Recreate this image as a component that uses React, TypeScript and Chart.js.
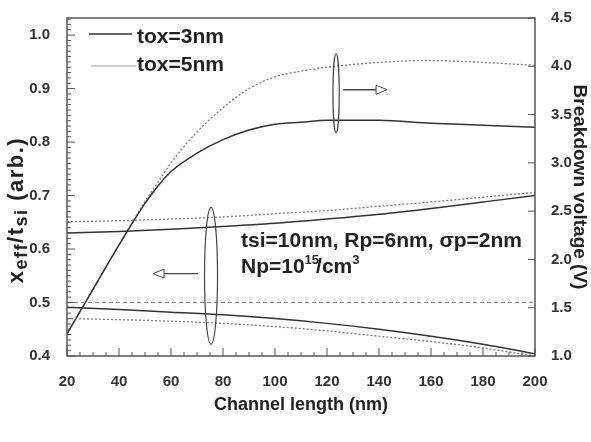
import React, { useEffect, useRef } from "react";
import { Chart, registerables } from "chart.js";

Chart.register(...registerables);

// ---- data ----
const lengthNm = [20, 40, 60, 80, 100, 120, 140, 160, 180, 200];
const xeffUpperTox3 = [0.630, 0.633, 0.637, 0.642, 0.648, 0.656, 0.665, 0.676, 0.688, 0.700];
const xeffUpperTox5 = [0.651, 0.653, 0.656, 0.660, 0.666, 0.672, 0.680, 0.688, 0.697, 0.706];
const xeffLowerTox3 = [0.491, 0.487, 0.482, 0.477, 0.470, 0.461, 0.450, 0.437, 0.422, 0.404];
const xeffLowerTox5 = [0.470, 0.468, 0.465, 0.461, 0.455, 0.447, 0.437, 0.427, 0.415, 0.400];
const refLength = [20, 200];
const refLevel = [0.5, 0.5];
const bdLength = [20, 30, 40, 50, 55, 60, 70, 80, 90, 100, 110, 120, 140, 160, 180, 200];
const bdTox3 = [1.23, 1.69, 2.15, 2.58, 2.76, 2.91, 3.10, 3.24, 3.34, 3.40, 3.42, 3.44, 3.44, 3.41, 3.39, 3.37];
const bdTox5 = [1.23, 1.69, 2.15, 2.60, 2.80, 3.00, 3.32, 3.57, 3.77, 3.89, 3.95, 3.99, 4.04, 4.06, 4.04, 4.01];

const xTickStep = 20;
const leftTickStep = 0.1;
const rightTickStep = 0.5;
const legendLabels = ["tox=3nm", "tox=5nm"];
const noteLine1 = "tsi=10nm, Rp=6nm, \u03C3p=2nm";

// annotation anchors in data units
const rightEllipse = { cx: 123.5, cy: 3.72, rx: 1.2, ry: 0.41 };
const leftEllipse = { cx: 75.4, cy: 0.55, rx: 2.5, ry: 0.128 };
const rightArrow = { from: 126.2, to: 143.1, at: 3.757 };
const leftArrow = { from: 70.4, to: 53.1, at: 0.554 };

const FONT = 'Arial, "Liberation Sans", sans-serif';
const DARK = "#333333";
const LIGHT = "#7a7a7a";

const pts = (xs: number[], ys: number[]) => xs.map((x, i) => ({ x, y: ys[i] }));

const decor = {
  id: "decor",
  afterDraw(chart: any) {
    const { ctx, chartArea: a, scales } = chart;
    const sx = scales.x, yl = scales.y, yr = scales.y1;
    ctx.save();

    // frame
    ctx.strokeStyle = "#555";
    ctx.lineWidth = 1.5;
    ctx.strokeRect(a.left, a.top, a.right - a.left, a.bottom - a.top);

    // inward ticks
    ctx.lineWidth = 1;
    ctx.strokeStyle = "#555";
    ctx.beginPath();
    for (let i = 0; i <= 36; i++) {
      const v = 20 + i * 5;
      const px = sx.getPixelForValue(v);
      const len = i % 4 === 0 ? 8 : 4;
      ctx.moveTo(px, a.bottom);
      ctx.lineTo(px, a.bottom - len);
    }
    for (let i = 0; i <= 70; i++) {
      const v = 0.4 + i * 0.01;
      if (v > yl.max + 1e-9) break;
      const py = yl.getPixelForValue(v);
      const len = i % 10 === 0 ? 8 : 4;
      ctx.moveTo(a.left, py);
      ctx.lineTo(a.left + len, py);
    }
    for (let i = 0; i <= 7; i++) {
      const v = 1 + i * 0.5;
      const py = yr.getPixelForValue(v);
      ctx.moveTo(a.right, py);
      ctx.lineTo(a.right - 7, py);
    }
    ctx.stroke();

    // ellipses
    const drawEllipse = (e: any, ys: any) => {
      const cx = sx.getPixelForValue(e.cx);
      const cy = ys.getPixelForValue(e.cy);
      const rx = Math.abs(sx.getPixelForValue(e.cx + e.rx) - cx);
      const ry = Math.abs(ys.getPixelForValue(e.cy + e.ry) - cy);
      ctx.beginPath();
      ctx.ellipse(cx, cy, rx, ry, 0, 0, Math.PI * 2);
      ctx.strokeStyle = "#444";
      ctx.lineWidth = 1.2;
      ctx.stroke();
    };
    drawEllipse(rightEllipse, yr);
    drawEllipse(leftEllipse, yl);

    // arrows with open triangular heads
    const drawArrow = (ar: any, ys: any) => {
      const x0 = sx.getPixelForValue(ar.from);
      const x1 = sx.getPixelForValue(ar.to);
      const y = ys.getPixelForValue(ar.at);
      const dir = x1 > x0 ? 1 : -1;
      const headLen = 11, headW = 4.5;
      const xb = x1 - dir * headLen;
      ctx.strokeStyle = "#444";
      ctx.lineWidth = 1.3;
      ctx.beginPath();
      ctx.moveTo(x0, y);
      ctx.lineTo(xb, y);
      ctx.stroke();
      ctx.beginPath();
      ctx.moveTo(xb, y - headW);
      ctx.lineTo(x1, y);
      ctx.lineTo(xb, y + headW);
      ctx.closePath();
      ctx.fillStyle = "#fff";
      ctx.fill();
      ctx.lineWidth = 1;
      ctx.stroke();
    };
    drawArrow(rightArrow, yr);
    drawArrow(leftArrow, yl);

    // legend
    ctx.fillStyle = "#222";
    ctx.textBaseline = "alphabetic";
    ctx.textAlign = "left";
    ctx.font = `bold 21px ${FONT}`;
    ctx.strokeStyle = DARK;
    ctx.lineWidth = 1.5;
    ctx.beginPath();
    ctx.moveTo(89, 34);
    ctx.lineTo(132, 34);
    ctx.stroke();
    ctx.fillText(legendLabels[0], 137, 43);
    ctx.strokeStyle = "#999";
    ctx.lineWidth = 1;
    ctx.beginPath();
    ctx.moveTo(91, 66);
    ctx.lineTo(136, 66);
    ctx.stroke();
    ctx.fillText(legendLabels[1], 137, 71);

    // note text
    ctx.fillText(noteLine1, 241, 247);
    let nx = 241;
    const seg = (t: string, size: number, dy: number) => {
      ctx.font = `bold ${size}px ${FONT}`;
      ctx.fillText(t, nx, 273 + dy);
      nx += ctx.measureText(t).width;
    };
    seg("Np=10", 21, 0);
    seg("15", 13, -9);
    nx -= 3;
    seg("/cm", 21, 0);
    seg("3", 13, -9);

    // bottom title
    ctx.font = `bold 18px ${FONT}`;
    ctx.textAlign = "center";
    ctx.fillText("Channel length (nm)", (a.left + a.right) / 2, 410);

    // right title
    ctx.save();
    ctx.translate(574, (a.top + a.bottom) / 2);
    ctx.rotate(Math.PI / 2);
    ctx.font = `bold 19px ${FONT}`;
    ctx.textAlign = "center";
    ctx.fillText("Breakdown voltage (V)", 0, 0);
    ctx.restore();

    // left title with subscripts
    ctx.save();
    ctx.translate(23, 210);
    ctx.rotate(-Math.PI / 2);
    ctx.textAlign = "left";
    const parts = [
      { t: "x", s: 22, d: 0 },
      { t: "eff", s: 18, d: 4 },
      { t: "/t", s: 22, d: 0 },
      { t: "si", s: 18, d: 4 },
      { t: " (arb.)", s: 22, d: 0 },
    ];
    const spacing = 1.5;
    const wOf = (p: any) => {
      ctx.font = `bold ${p.s}px ${FONT}`;
      let w = 0;
      for (const ch of p.t) w += ctx.measureText(ch).width + spacing;
      return w;
    };
    let total = 0;
    for (const p of parts) total += wOf(p);
    let tx = -total / 2;
    for (const p of parts) {
      ctx.font = `bold ${p.s}px ${FONT}`;
      for (const ch of p.t) {
        ctx.fillText(ch, tx, p.d);
        tx += ctx.measureText(ch).width + spacing;
      }
    }
    ctx.restore();

    ctx.restore();
  },
};

export default function App() {
  const ref = useRef<HTMLCanvasElement>(null);
  useEffect(() => {
    const tickFont = { family: FONT, size: 15, weight: "bold" as const };
    const chart = new Chart(ref.current as HTMLCanvasElement, {
      type: "line",
      data: {
        datasets: [
          { data: pts(refLength, refLevel), yAxisID: "y", borderColor: "#888", borderWidth: 1, borderDash: [4, 3], pointRadius: 0 },
          { data: pts(lengthNm, xeffUpperTox5), yAxisID: "y", borderColor: LIGHT, borderWidth: 1.3, borderDash: [2, 2], pointRadius: 0, cubicInterpolationMode: "monotone" },
          { data: pts(lengthNm, xeffUpperTox3), yAxisID: "y", borderColor: DARK, borderWidth: 1.5, pointRadius: 0, cubicInterpolationMode: "monotone" },
          { data: pts(lengthNm, xeffLowerTox5), yAxisID: "y", borderColor: LIGHT, borderWidth: 1.3, borderDash: [2, 2], pointRadius: 0, cubicInterpolationMode: "monotone" },
          { data: pts(lengthNm, xeffLowerTox3), yAxisID: "y", borderColor: DARK, borderWidth: 1.5, pointRadius: 0, cubicInterpolationMode: "monotone" },
          { data: pts(bdLength, bdTox3), yAxisID: "y1", borderColor: DARK, borderWidth: 1.5, pointRadius: 0, cubicInterpolationMode: "monotone" },
          { data: pts(bdLength, bdTox5), yAxisID: "y1", borderColor: LIGHT, borderWidth: 1.3, borderDash: [2, 2], pointRadius: 0, cubicInterpolationMode: "monotone" },
        ],
      },
      options: {
        responsive: false,
        animation: false,
        events: [],
        layout: { padding: { top: 8, left: 0, right: 0, bottom: 0 } },
        plugins: { legend: { display: false }, tooltip: { enabled: false } },
        scales: {
          x: {
            type: "linear",
            min: 20,
            max: 200,
            grid: { display: false },
            border: { display: false },
            ticks: { stepSize: xTickStep, font: tickFont, color: "#333", padding: 9, autoSkip: false, maxRotation: 0 },
            afterFit: (s: any) => { s.height = 86; },
          },
          y: {
            type: "linear",
            position: "left",
            min: 0.4,
            max: 1.032,
            grid: { display: false },
            border: { display: false },
            ticks: { stepSize: leftTickStep, includeBounds: false, font: tickFont, color: "#333", padding: 9, callback: (v: any) => Number(v).toFixed(1) },
            afterFit: (s: any) => { s.width = 67; },
          },
          y1: {
            type: "linear",
            position: "right",
            min: 1.0,
            max: 4.5,
            grid: { display: false },
            border: { display: false },
            ticks: { stepSize: rightTickStep, font: tickFont, color: "#333", padding: 8, callback: (v: any) => Number(v).toFixed(1) },
            afterFit: (s: any) => { s.width = 56; },
          },
        },
      },
      plugins: [decor],
    } as any);
    return () => chart.destroy();
  }, []);
  return (
    <div style={{ position: "fixed", left: 0, top: 0, width: 591, height: 442, background: "#fff" }}>
      <canvas ref={ref} width={591} height={442} style={{ display: "block" }} />
    </div>
  );
}
